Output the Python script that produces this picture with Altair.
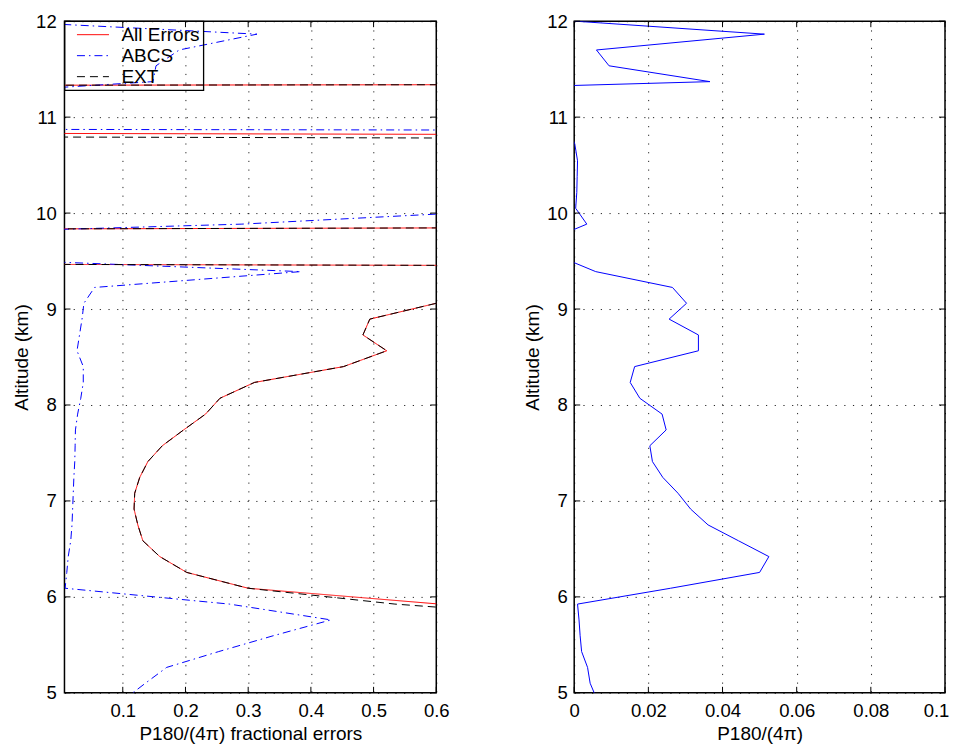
import altair as alt
import pandas as pd

# ---------------- data ----------------
altitude = [12.03, 11.865, 11.70, 11.535, 11.37, 11.205, 11.04, 10.875, 10.71, 10.545,
            10.38, 10.215, 10.05, 9.885, 9.72, 9.555, 9.39, 9.225, 9.06, 8.895,
            8.73, 8.565, 8.40, 8.235, 8.07, 7.905, 7.74, 7.575, 7.41, 7.245,
            7.08, 6.915, 6.75, 6.585, 6.42, 6.255, 6.09, 5.925, 5.76, 5.595,
            5.43, 5.265, 5.10, 4.935]

all_errors = [3.0, 3.0, 3.5, 3.0, 4.5, -15.5, -12.0, -3.0, 8.0, 12.0,
              14.0, 15.0, 18.0, 3.0, -7.0, -5.45, 4.55, 2.0, 0.60, 0.494,
              0.483, 0.521, 0.452, 0.31, 0.255, 0.232, 0.197, 0.163, 0.140, 0.127,
              0.119, 0.118, 0.124, 0.132, 0.159, 0.202, 0.30, 0.605, 1.0, 1.4,
              1.8, 2.2, 2.6, 3.0]

abcs = [-0.19, 0.314, 0.19, 0.153, 0.148, -0.255, -0.4, -0.3, 16.0, 6.0,
        5.0, 4.0, 0.78, 0.29, -0.58, -0.26, 0.384, 0.055, 0.038, 0.035,
        0.031, 0.027, 0.037, 0.037, 0.033, 0.028, 0.0245, 0.024, 0.0234, 0.022,
        0.021, 0.020, 0.019, 0.017, 0.013, 0.0107, 0.008, 0.27, 0.432, 0.34,
        0.253, 0.170, 0.136, 0.103]

ext = [3.0, 3.0, 3.5, 3.0, 4.5, -15.5, -12.0, -5.0, 5.0, 12.0,
       14.0, 15.0, 18.0, 3.0, -7.0, -5.45, 4.55, 2.0, 0.60, 0.494,
       0.483, 0.521, 0.452, 0.31, 0.255, 0.232, 0.197, 0.163, 0.140, 0.127,
       0.119, 0.118, 0.124, 0.132, 0.159, 0.202, 0.30, 0.534, 0.88, 1.2,
       1.6, 2.0, 2.4, 2.8]

p180 = [-0.011, 0.0513, 0.006, 0.0094, 0.0366, -0.115, -0.08, -0.0012, 0.0002, 0.0009,
        0.0008, 0.0007, 0.0004, 0.0034, -0.0068, -0.0045, 0.0058, 0.0265, 0.0303, 0.0256,
        0.0335, 0.0335, 0.0163, 0.0151, 0.0177, 0.0237, 0.0248, 0.0204, 0.0211, 0.0239,
        0.028, 0.0314, 0.0361, 0.0443, 0.0525, 0.050, 0.026, 0.0009, 0.0013, 0.0016,
        0.002, 0.0036, 0.0043, 0.0061]

series_names = ["All Errors", "ABCS", "EXT"]
series_colors = ["#ff0000", "#0000ff", "#000000"]
series_dashes = [[1, 0], [8, 4, 1.5, 4], [8, 5]]

left_xticks = [0.1, 0.2, 0.3, 0.4, 0.5, 0.6]
right_xticks = [0, 0.02, 0.04, 0.06, 0.08, 0.1]
yticks = [5, 6, 7, 8, 9, 10, 11, 12]

left_xlabel = "P180/(4\u03c0) fractional errors"
right_xlabel = "P180/(4\u03c0)"
ylabel = "Altitude (km)"

# ---------------- tables ----------------
rows = []
for name, vals in zip(series_names, [all_errors, abcs, ext]):
    for k, (a, v) in enumerate(zip(altitude, vals)):
        rows.append({"series": name, "k": k, "alt": a, "val": v})
left_df = pd.DataFrame(rows)
right_df = pd.DataFrame({"k": list(range(len(altitude))), "alt": altitude, "val": p180})

# ---------------- styling ----------------
FONT = "Liberation Sans"
W_L, W_R, H = 372, 371, 672
TICK = 6

xl_scale = alt.Scale(domain=[0.007, 0.6], nice=False, zero=False)
xr_scale = alt.Scale(domain=[0, 0.1], nice=False, zero=False)
y_scale = alt.Scale(domain=[5, 12], nice=False, zero=False)

common = dict(grid=True, gridColor="black", gridDash=[1.2, 7.5], gridWidth=1,
              gridOpacity=0.85, ticks=False, domain=False, labelFlush=False,
              labelFont=FONT, labelFontSize=18.5, labelColor="black",
              titleFont=FONT, titleFontSize=19, titleFontWeight="normal",
              titleColor="black", format="~g")

left_x_axis = alt.Axis(title=left_xlabel, values=left_xticks, labelPadding=9,
                       titlePadding=4, **common)
left_y_axis = alt.Axis(title=ylabel, values=yticks, labelPadding=8.3,
                       titlePadding=4.5, **common)
# last label pulled in a little so it stays inside the page
right_x_axis = alt.Axis(title=right_xlabel, values=right_xticks, labelPadding=9,
                        titlePadding=4,
                        labelOffset={"condition": {"test": "datum.value >= 0.099", "value": -9},
                                     "value": 0},
                        **common)
right_y_axis = alt.Axis(title=ylabel, values=yticks, labelPadding=6.8,
                        titlePadding=4.5, **common)

color_scale = alt.Scale(domain=series_names, range=series_colors)
dash_scale = alt.Scale(domain=series_names, range=series_dashes)
legend = alt.Legend(title=None, orient="none", legendX=0, legendY=0,
                    symbolType="stroke", symbolSize=1024, symbolStrokeWidth=1,
                    labelFont=FONT, labelFontSize=19, labelColor="black",
                    strokeColor="black", padding=3, symbolOffset=9,
                    labelOffset=12, clipHeight=21, rowPadding=0,
                    labelExpr="datum.label + '\u00a0\u00a0'")


def series_layer(name):
    return alt.Chart(left_df).transform_filter(alt.datum.series == name).mark_line(
        clip=True, strokeWidth=1
    ).encode(
        x=alt.X("val:Q", scale=xl_scale, axis=left_x_axis),
        y=alt.Y("alt:Q", scale=y_scale, axis=left_y_axis),
        color=alt.Color("series:N", scale=color_scale, legend=legend),
        strokeDash=alt.StrokeDash("series:N", scale=dash_scale, legend=legend),
        order=alt.Order("k:Q"),
    )


def tick_layers(xticks, xscale, xaxis, yaxis, width):
    xt = alt.Chart(pd.DataFrame({"val": xticks}))
    yt = alt.Chart(pd.DataFrame({"alt": yticks}))
    sty = dict(color="black", strokeWidth=1)
    xenc = alt.X("val:Q", scale=xscale, axis=xaxis)
    yenc = alt.Y("alt:Q", scale=y_scale, axis=yaxis)
    return [
        xt.mark_rule(**sty).encode(x=xenc, y=alt.value(0), y2=alt.value(TICK)),
        xt.mark_rule(**sty).encode(x=xenc, y=alt.value(H - TICK), y2=alt.value(H)),
        yt.mark_rule(**sty).encode(y=yenc, x=alt.value(0), x2=alt.value(TICK)),
        yt.mark_rule(**sty).encode(y=yenc, x=alt.value(width - TICK), x2=alt.value(width)),
    ]


left = alt.layer(
    *[series_layer(n) for n in series_names],
    *tick_layers(left_xticks, xl_scale, left_x_axis, left_y_axis, W_L),
).properties(width=W_L, height=H)

right_line = alt.Chart(right_df).mark_line(clip=True, color="#0000ff", strokeWidth=1).encode(
    x=alt.X("val:Q", scale=xr_scale, axis=right_x_axis),
    y=alt.Y("alt:Q", scale=y_scale, axis=right_y_axis),
    order=alt.Order("k:Q"),
)
right = alt.layer(
    right_line, *tick_layers(right_xticks, xr_scale, right_x_axis, right_y_axis, W_R)
).properties(width=W_R, height=H)

chart = alt.hconcat(left, right, spacing=138, bounds="flush").properties(
    padding={"left": 2.5, "top": 3, "right": 0, "bottom": 0}
).configure_view(stroke="black", strokeWidth=1.5).configure_legend(strokeWidth=1.3)

chart.save("out.html", embed_options={"renderer": "svg", "actions": False})
